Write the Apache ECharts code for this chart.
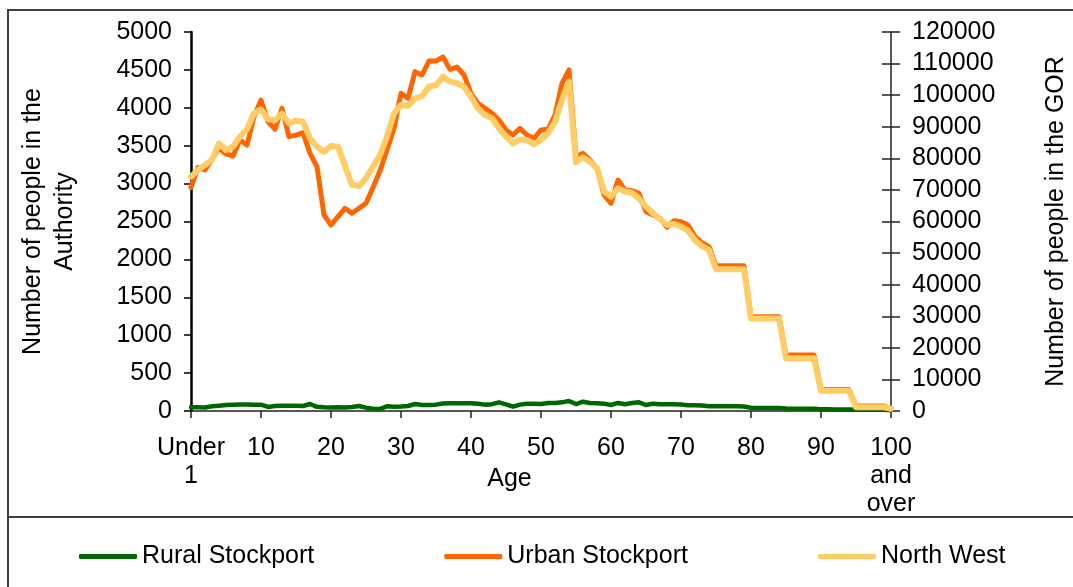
<!DOCTYPE html>
<html>
<head>
<meta charset="utf-8">
<script src="https://cdn.jsdelivr.net/npm/echarts@6/dist/echarts.min.js"></script>
<style>
html,body{margin:0;padding:0;background:#fff;}
#chart{width:1073px;height:587px;}
</style>
</head>
<body>
<div id="chart"></div>
<script>
var ages = ['Under 1','1','2','3','4','5','6','7','8','9','10','11','12','13','14','15','16','17','18','19',
'20','21','22','23','24','25','26','27','28','29','30','31','32','33','34','35','36','37','38','39',
'40','41','42','43','44','45','46','47','48','49','50','51','52','53','54','55','56','57','58','59',
'60','61','62','63','64','65','66','67','68','69','70','71','72','73','74','75','76','77','78','79',
'80','81','82','83','84','85','86','87','88','89','90','91','92','93','94','95','96','97','98','99','100 and over'];

var seriesNames = ['Rural Stockport','Urban Stockport','North West'];

var ruralStockport = [48,48,46,62,70,79,84,86,86,84,84,53,66,70,70,68,66,92,55,48,
46,48,46,53,66,44,30,28,62,57,60,66,92,79,79,84,99,101,101,103,
101,97,84,90,114,88,57,84,97,95,92,106,106,114,132,92,123,106,101,97,
79,106,88,106,114,79,97,90,88,88,86,77,75,73,64,62,62,62,62,60,
42,40,40,40,38,32,31,31,31,30,22,22,21,21,21,18,18,18,17,17,9];

var urbanStockport = [2950,3215,3180,3320,3466,3391,3364,3575,3509,3883,4103,3817,3716,3993,3619,3641,3672,3399,3223,2586,
2454,2564,2674,2608,2674,2740,2950,3170,3443,3729,4191,4125,4477,4433,4617,4617,4670,4507,4538,4433,
4191,4059,3993,3927,3839,3707,3641,3729,3641,3597,3707,3716,3905,4323,4500,3350,3400,3311,3202,2850,
2740,3047,2916,2907,2872,2630,2586,2542,2423,2511,2498,2454,2300,2221,2168,1915,1915,1915,1915,1915,
1245,1245,1245,1245,1245,740,740,740,740,740,285,285,285,285,285,66,66,66,66,66,35];

var northWest = [74200,76300,77900,79500,84700,82600,83700,86900,89200,94200,95500,92400,92100,94200,91100,91900,91600,86300,83700,82100,
83900,83700,77600,71600,71200,73700,77400,81000,86900,94200,96900,96600,99000,99700,102700,103200,105900,104300,103800,102700,
99500,95800,93700,92700,89500,86900,84700,86000,85800,84500,85800,87900,91600,98500,104300,78800,80300,78900,76800,69500,
67900,70500,69500,69100,67300,64700,62600,60700,58900,59200,58400,57100,54100,52200,51000,44900,44900,44900,44900,44900,
29300,29300,29300,29300,29300,16700,16700,16700,16700,16700,6400,6400,6400,6400,6400,1200,1200,1200,1200,1200,700];

var FONT = '"Liberation Sans", Arial, sans-serif';
var chart = echarts.init(document.getElementById('chart'), null, {renderer:'canvas'});
var every10 = function (i) { return i % 10 === 0; };
var plain = function (v) { return String(v); };

chart.setOption({
  animation: false,
  backgroundColor: '#ffffff',
  textStyle: {fontFamily: FONT, color: '#000'},
  grid: {left: 191, right: 182, top: 32, bottom: 176, containLabel: false, outerBoundsMode: 'none'},
  legend: {
    data: seriesNames,
    left: 74, top: 539,
    icon: 'roundRect', itemWidth: 58, itemHeight: 5, itemGap: 130,
    textStyle: {fontFamily: FONT, fontSize: 25, color: '#000'}
  },
  xAxis: {
    type: 'category', data: ages, boundaryGap: false,
    name: 'Age', nameLocation: 'middle', nameGap: 56, nameMoveOverlap: false,
    nameTextStyle: {fontFamily: FONT, fontSize: 25, color: '#000', padding: [0, 63, 0, 0]},
    axisLine: {lineStyle: {color: '#222', width: 1.5}},
    axisTick: {interval: every10, length: 7, lineStyle: {color: '#222', width: 1.5}},
    axisLabel: {interval: every10, margin: 23, fontFamily: FONT, fontSize: 25, color: '#000', lineHeight: 28,
      formatter: function (v) { return v.replace(/ /g, '\n'); }},
    splitLine: {show: false}
  },
  yAxis: [
    {
      type: 'value', position: 'left', min: 0, max: 5000, interval: 500,
      name: 'Number of people in the\nAuthority', nameLocation: 'middle', nameGap: 110, nameRotate: 90,
      nameMoveOverlap: false,
      nameTextStyle: {fontFamily: FONT, fontSize: 25, color: '#000', lineHeight: 32},
      axisLine: {show: true, lineStyle: {color: '#000', width: 2.5}},
      axisTick: {show: true, length: 7, lineStyle: {color: '#000', width: 1.5}},
      axisLabel: {margin: 19, fontFamily: FONT, fontSize: 25, color: '#000', formatter: plain},
      splitLine: {show: false}
    },
    {
      type: 'value', position: 'right', min: 0, max: 120000, interval: 10000,
      name: 'Number of people in the GOR', nameLocation: 'middle', nameGap: 153, nameRotate: 90,
      nameMoveOverlap: false,
      nameTextStyle: {fontFamily: FONT, fontSize: 25, color: '#000'},
      axisLine: {show: true, lineStyle: {color: '#222', width: 1.5}},
      axisTick: {show: true, length: 9, lineStyle: {color: '#222', width: 1.5}},
      axisLabel: {margin: 21, fontFamily: FONT, fontSize: 25, color: '#000', formatter: plain},
      splitLine: {show: false}
    },
    {
      type: 'value', position: 'right', min: 0, max: 120000, interval: 10000,
      axisLine: {show: false},
      axisTick: {show: true, inside: true, length: 9, lineStyle: {color: '#222', width: 1.5}},
      axisLabel: {show: false},
      splitLine: {show: false}
    }
  ],
  series: [
    {name: seriesNames[0], type: 'line', yAxisIndex: 0, data: ruralStockport, symbol: 'none',
     color: '#006600', lineStyle: {width: 4.5, color: '#006600', cap: 'round', join: 'round'}, z: 2},
    {name: seriesNames[1], type: 'line', yAxisIndex: 0, data: urbanStockport, symbol: 'none',
     color: '#FF6600', lineStyle: {width: 5, color: '#FF6600', cap: 'round', join: 'round'}, z: 3},
    {name: seriesNames[2], type: 'line', yAxisIndex: 1, data: northWest, symbol: 'none',
     color: '#FFCC66', lineStyle: {width: 6, color: '#FFCC66', cap: 'round', join: 'round'}, z: 4}
  ],
  graphic: [
    {type: 'rect', shape: {x: 8, y: 10, width: 1100, height: 620}, silent: true,
     style: {fill: 'none', stroke: '#404040', lineWidth: 2}},
    {type: 'line', shape: {x1: 8, y1: 517, x2: 1073, y2: 517}, silent: true,
     style: {stroke: '#404040', lineWidth: 2}}
  ]
});
</script>
</body>
</html>
